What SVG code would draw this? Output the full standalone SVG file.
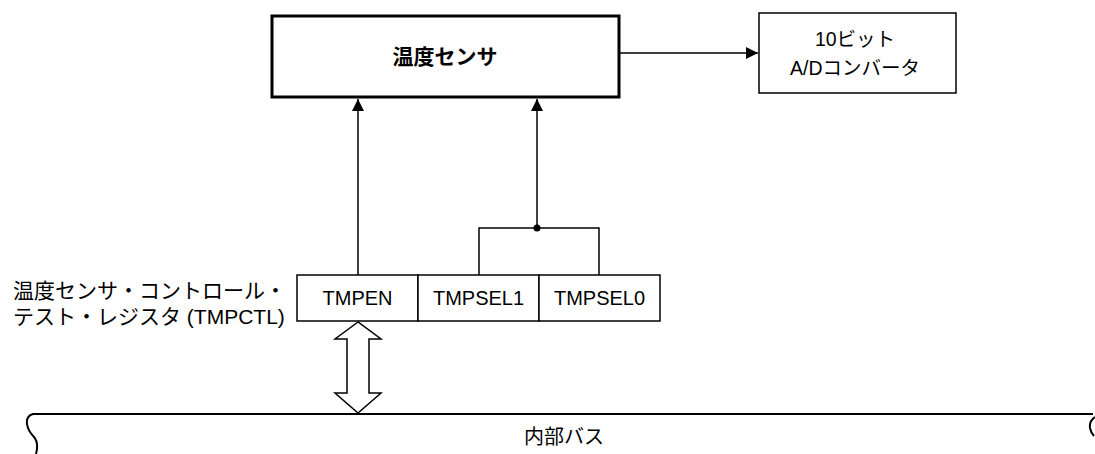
<svg xmlns="http://www.w3.org/2000/svg" width="1095" height="454" viewBox="0 0 1095 454">
<style>
.t{font-family:"Liberation Sans","Noto Sans CJK JP",sans-serif;fill:#000}
.box{fill:#fff;stroke:#000;stroke-width:1.5}
.ln{fill:none;stroke:#000;stroke-width:1.5}
</style>
<defs>
<marker id="ah" markerWidth="12" markerHeight="12" refX="12" refY="6" orient="auto" markerUnits="userSpaceOnUse">
<path d="M0,0 L12,6 L0,12 Z" fill="#000"/>
</marker>
</defs>
<g id="connectors">
<line class="ln" x1="620" y1="53" x2="758" y2="53" marker-end="url(#ah)"/>
<line class="ln" x1="358" y1="275" x2="358" y2="99" marker-end="url(#ah)"/>
<line class="ln" x1="537" y1="228" x2="537" y2="99" marker-end="url(#ah)"/>
<polyline class="ln" points="479,275 479,228 599,228 599,275"/>
<circle cx="537" cy="228" r="3.5" fill="#000"/>
<polygon class="ln" fill="#fff" points="358,322 335,339 347,339 347,393 335,393 358,413 381,393 369,393 369,339 381,339"/>
</g>
<g id="sensor">
<rect x="272" y="16" width="347" height="81" fill="#fff" stroke="#000" stroke-width="3"/>
<text class="t" x="445" y="64" font-size="21" font-weight="bold" text-anchor="middle">温度センサ</text>
</g>
<g id="adc">
<rect class="box" x="759" y="13" width="197" height="80"/>
<text class="t" x="855" y="46" font-size="19.5" text-anchor="middle">10ビット</text>
<text class="t" x="855" y="75" font-size="19.5" text-anchor="middle">A/Dコンバータ</text>
</g>
<g id="register-label">
<text class="t" x="13" y="298" font-size="21">温度センサ・コントロール・</text>
<text class="t" x="13" y="324" font-size="21">テスト・レジスタ (TMPCTL)</text>
</g>
<g id="tmpen">
<rect class="box" x="297" y="275" width="121" height="46"/>
<text class="t" x="357.5" y="305" font-size="20" text-anchor="middle">TMPEN</text>
</g>
<g id="tmpsel1">
<rect class="box" x="418" y="275" width="121" height="46"/>
<text class="t" x="478.5" y="305" font-size="20" text-anchor="middle">TMPSEL1</text>
</g>
<g id="tmpsel0">
<rect class="box" x="539" y="275" width="121" height="46"/>
<text class="t" x="599.5" y="305" font-size="20" text-anchor="middle">TMPSEL0</text>
</g>
<g id="bus">
<path fill="none" stroke="#000" stroke-width="2" d="M1093,414 L33,414 Q26,416 27,424 Q28,431 34,437 Q39,443 36,454"/>
<path fill="none" stroke="#000" stroke-width="2" d="M1095,417 Q1089,421 1090,428 Q1091,433 1094,436"/>
<text class="t" x="564" y="444" font-size="20" text-anchor="middle">内部バス</text>
</g>
</svg>
